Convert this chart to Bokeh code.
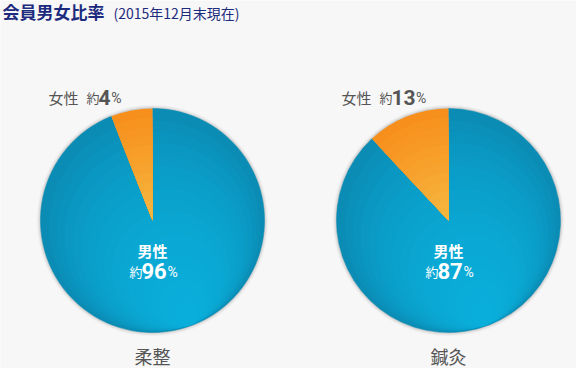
import math
from bokeh.plotting import figure
from bokeh.models import ColumnDataSource
from bokeh.core.properties import value
from bokeh.embed import file_html
from bokeh.resources import INLINE

# ---- data ----
groups = ["柔整", "鍼灸"]
male_label_pct = [96, 87]
female_label_pct = [4, 13]
female_share_drawn = [6, 12]   # slice size as drawn in the picture (%)
title_main = "会員男女比率"
title_sub = "(2015年12月末現在)"

W, H = 576, 368
FONT = value("Noto Sans CJK JP")
NUMFONT = value("Roboto")
GREY = "#555555"

p = figure(width=W, height=H, x_range=(0, W), y_range=(0, H),
           output_backend="svg", toolbar_location=None,
           min_border=0, background_fill_color="#f7f7f7",
           border_fill_color="#f7f7f7")
p.axis.visible = False
p.grid.visible = False
p.outline_line_color = None

def Y(ref_y):
    return H - ref_y

def mix(c1, c2, t):
    a = [int(c1[i:i + 2], 16) for i in (1, 3, 5)]
    b = [int(c2[i:i + 2], 16) for i in (1, 3, 5)]
    return "#%02x%02x%02x" % tuple(round(a[k] + (b[k] - a[k]) * t) for k in range(3))

centers_x = [152, 448]
cy = Y(220)
R = 112

start_f, end_f, start_m, end_m = [], [], [], []
for f in female_share_drawn:
    a = 2 * math.pi * f / 100.0
    start_f.append(math.pi / 2)
    end_f.append(math.pi / 2 + a)
    start_m.append(math.pi / 2 + a)
    end_m.append(math.pi / 2 + 2 * math.pi)

src = ColumnDataSource(dict(x=centers_x, y=[cy, cy], sf=start_f, ef=end_f,
                            sm=start_m, em=end_m, g=groups,
                            ly=[Y(355), Y(355)]))

# soft shadow
for r, a in [(R + 4, 0.02), (R + 3, 0.03), (R + 2, 0.05), (R + 1, 0.08)]:
    p.circle(x="x", y="y", radius=r, source=src, fill_color="#000000",
             fill_alpha=a, line_color=None)

# male (blue) slice with a light gradient toward the bottom
p.wedge(x="x", y="y", radius=R, start_angle="sm", end_angle="em",
        source=src, fill_color="#0a8cb5", line_color="#0a8cb5", line_width=0.5)
N = 18
ang = math.radians(-70)
for k in range(1, N):
    d = R * 0.94 * k / N
    ox, oy = d * math.cos(ang), d * math.sin(ang)
    p.circle(x=[cx + ox for cx in centers_x], y=[cy + oy, cy + oy],
             radius=R - d - 0.5, fill_color="#10bbe8", fill_alpha=0.09,
             line_color=None)

# female (orange) slice with a vertical gradient
M = 12
for k in range(M):
    t = k / (M - 1)
    p.wedge(x="x", y="y", radius=R * (1 - 0.9 * t), start_angle="sf", end_angle="ef",
            source=src, fill_color=mix("#f78f1c", "#f6b63e", t), line_color=None)

# title
p.text(x=[2], y=[Y(11)], text=[title_main], text_font=FONT, text_font_size="17px",
       text_font_style="bold", text_color="#1c2b7d", text_baseline="middle")
p.text(x=[113], y=[Y(12)], text=[title_sub], text_font=FONT, text_font_size="14px",
       text_color="#1c2b7d", text_baseline="middle")

# female labels (outside, above)
fl_x = [48, 341]
fy = Y(97)
for i, x0 in enumerate(fl_x):
    num = str(female_label_pct[i])
    p.text(x=[x0], y=[fy], text=["女性"], text_font=FONT, text_font_size="15px",
           text_color=GREY, text_baseline="middle")
    p.text(x=[x0 + 38], y=[fy], text=["約"], text_font=FONT, text_font_size="13px",
           text_color=GREY, text_baseline="middle")
    p.text(x=[x0 + 50], y=[fy + 0.5], text=[num], text_font=NUMFONT,
           text_font_size="21px", text_font_style="bold", text_color=GREY,
           text_baseline="middle")
    nw = 11.8 * len(num)
    p.text(x=[x0 + 51 + nw], y=[fy - 0.5], text=["%"], text_font=NUMFONT,
           text_font_size="14px", text_color=GREY, text_baseline="middle")

# male labels (inside)
for i, cx in enumerate(centers_x):
    num = str(male_label_pct[i])
    p.text(x=[cx], y=[Y(250)], text=["男性"], text_font=FONT, text_font_size="15px",
           text_font_style="bold", text_color="white", text_baseline="middle",
           text_align="center")
    p.text(x=[cx - 23], y=[Y(271)], text=["約"], text_font=FONT, text_font_size="13px",
           text_color="white", text_baseline="middle")
    p.text(x=[cx - 11], y=[Y(270)], text=[num], text_font=NUMFONT,
           text_font_size="22px", text_font_style="bold", text_color="white",
           text_baseline="middle")
    p.text(x=[cx + 15], y=[Y(271)], text=["%"], text_font=NUMFONT,
           text_font_size="14px", text_color="white", text_baseline="middle")

# group labels (below)
p.text(x="x", y="ly", text="g", source=src,
       text_font=FONT, text_font_size="18px", text_color=GREY,
       text_baseline="middle", text_align="center")

open("out.html", "w").write(file_html(p, INLINE))
